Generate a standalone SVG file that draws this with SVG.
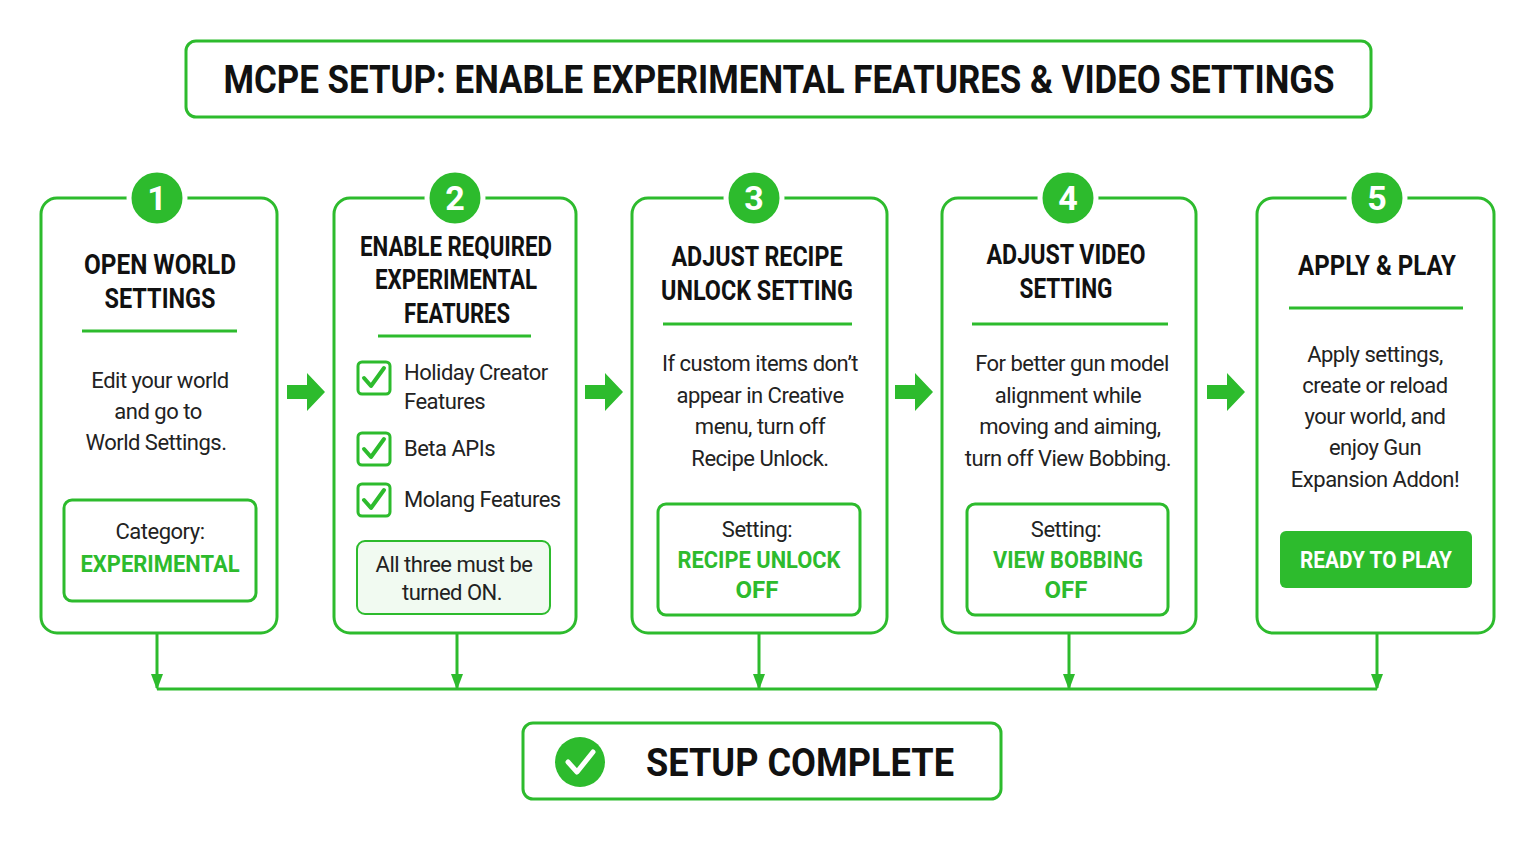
<svg xmlns="http://www.w3.org/2000/svg" width="1536" height="842" viewBox="0 0 1536 842">
<style>
.box{fill:#fff;stroke:#2dbb2d;stroke-width:3}
.t{font-family:Roboto,"Liberation Sans",sans-serif;font-weight:bold;font-size:27px;fill:#111;text-anchor:middle}
.big{font-size:38px}
.b{font-family:Roboto,"Liberation Sans",sans-serif;font-size:22px;letter-spacing:-0.5px;fill:#222;text-anchor:middle}
.g{font-family:Roboto,"Liberation Sans",sans-serif;font-weight:bold;font-size:24px;fill:#2dbb2d;text-anchor:middle}
.w{fill:#fff}
.num{font-family:Roboto,"Liberation Sans",sans-serif;font-weight:bold;font-size:34px;fill:#fff;text-anchor:middle}
.div{stroke:#2dbb2d;stroke-width:3}
.cb{fill:#fff;stroke:#2dbb2d;stroke-width:3}
.ck{fill:none;stroke:#2dbb2d;stroke-width:4;stroke-linecap:round;stroke-linejoin:round}
.line{stroke:#2dbb2d;stroke-width:3;fill:none}
.arr{fill:#2dbb2d}
.l{text-anchor:start}
</style>
<defs>
<marker id="ad" viewBox="0 0 16 12" markerWidth="16" markerHeight="12" refX="14" refY="6" orient="auto" markerUnits="userSpaceOnUse"><path d="M0,0 L16,6 L0,12 Z" fill="#2dbb2d"/></marker>
</defs>
<rect width="1536" height="842" fill="#fff"/>
<g id="title"><rect class="box" x="186" y="41" width="1185" height="76" rx="10"/>
<text class="t big" x="779" y="93" textLength="1111" lengthAdjust="spacingAndGlyphs">MCPE SETUP: ENABLE EXPERIMENTAL FEATURES &amp; VIDEO SETTINGS</text></g>

<g id="connectors">
<g class="arr">
<path d="M287,385 H307 V373 L325,392 L307,411 V399 H287 Z"/>
<path d="M585,385 H605 V373 L623,392 L605,411 V399 H585 Z"/>
<path d="M895,385 H915 V373 L933,392 L915,411 V399 H895 Z"/>
<path d="M1207,385 H1227 V373 L1245,392 L1227,411 V399 H1207 Z"/>
</g>
<path class="line" d="M157,689 H1377"/>
<path class="line" d="M157,633 V688" marker-end="url(#ad)"/>
<path class="line" d="M457,633 V688" marker-end="url(#ad)"/>
<path class="line" d="M759,633 V688" marker-end="url(#ad)"/>
<path class="line" d="M1069,633 V688" marker-end="url(#ad)"/>
<path class="line" d="M1377,633 V688" marker-end="url(#ad)"/>
</g>

<g id="step1"><rect class="box" x="41" y="198" width="236" height="435" rx="16"/>
<circle cx="157" cy="198" r="28" fill="#2dbb2d" stroke="#fff" stroke-width="5"/><text class="num" x="157" y="210">1</text>
<text class="t" x="160" y="274" textLength="152" lengthAdjust="spacingAndGlyphs">OPEN WORLD</text><text class="t" x="160" y="308" textLength="111" lengthAdjust="spacingAndGlyphs">SETTINGS</text>
<line class="div" x1="82" y1="331" x2="237" y2="331"/>
<text class="b" x="160" y="388">Edit your world</text><text class="b" x="158" y="419">and go to</text><text class="b" x="156" y="450">World Settings.</text>
<rect class="box" x="64" y="500" width="192" height="101" rx="8"/>
<text class="b" x="160" y="539">Category:</text><text class="g" x="160" y="572" textLength="159" lengthAdjust="spacingAndGlyphs">EXPERIMENTAL</text></g>

<g id="step2"><rect class="box" x="334" y="198" width="242" height="435" rx="16"/>
<circle cx="455" cy="198" r="28" fill="#2dbb2d" stroke="#fff" stroke-width="5"/><text class="num" x="455" y="210">2</text>
<text class="t" x="456" y="256" textLength="192" lengthAdjust="spacingAndGlyphs">ENABLE REQUIRED</text><text class="t" x="456" y="289" textLength="162" lengthAdjust="spacingAndGlyphs">EXPERIMENTAL</text><text class="t" x="457" y="323" textLength="106" lengthAdjust="spacingAndGlyphs">FEATURES</text>
<line class="div" x1="378" y1="336" x2="531" y2="336"/>
<rect class="cb" x="358" y="362" width="32" height="32" rx="4"/><path class="ck" d="M364,378 L371,386 L384,368"/>
<rect class="cb" x="358" y="433" width="32" height="32" rx="4"/><path class="ck" d="M364,449 L371,457 L384,439"/>
<rect class="cb" x="358" y="484" width="32" height="32" rx="4"/><path class="ck" d="M364,500 L371,508 L384,490"/>
<text class="b l" x="404" y="380">Holiday Creator</text><text class="b l" x="404" y="409">Features</text>
<text class="b l" x="404" y="456">Beta APIs</text><text class="b l" x="404" y="507">Molang Features</text>
<rect x="357" y="541" width="193" height="73" rx="8" fill="#f1faf1" stroke="#2dbb2d" stroke-width="2"/>
<text class="b" x="454" y="572">All three must be</text><text class="b" x="452" y="600">turned ON.</text></g>

<g id="step3"><rect class="box" x="632" y="198" width="255" height="435" rx="16"/>
<circle cx="754" cy="198" r="28" fill="#2dbb2d" stroke="#fff" stroke-width="5"/><text class="num" x="754" y="210">3</text>
<text class="t" x="757" y="266" textLength="171" lengthAdjust="spacingAndGlyphs">ADJUST RECIPE</text><text class="t" x="757" y="300" textLength="192" lengthAdjust="spacingAndGlyphs">UNLOCK SETTING</text>
<line class="div" x1="663" y1="324" x2="852" y2="324"/>
<text class="b" x="760" y="371">If custom items don’t</text><text class="b" x="760" y="403">appear in Creative</text><text class="b" x="760" y="434">menu, turn off</text><text class="b" x="760" y="466">Recipe Unlock.</text>
<rect class="box" x="658" y="504" width="202" height="111" rx="8"/>
<text class="b" x="757" y="537">Setting:</text><text class="g" x="759" y="568" textLength="163" lengthAdjust="spacingAndGlyphs">RECIPE UNLOCK</text><text class="g" x="757" y="598">OFF</text></g>

<g id="step4"><rect class="box" x="942" y="198" width="254" height="435" rx="16"/>
<circle cx="1068" cy="198" r="28" fill="#2dbb2d" stroke="#fff" stroke-width="5"/><text class="num" x="1068" y="210">4</text>
<text class="t" x="1066" y="264" textLength="159" lengthAdjust="spacingAndGlyphs">ADJUST VIDEO</text><text class="t" x="1066" y="298" textLength="93" lengthAdjust="spacingAndGlyphs">SETTING</text>
<line class="div" x1="972" y1="324" x2="1168" y2="324"/>
<text class="b" x="1072" y="371">For better gun model</text><text class="b" x="1068" y="403">alignment while</text><text class="b" x="1070" y="434">moving and aiming,</text><text class="b" x="1068" y="466">turn off View Bobbing.</text>
<rect class="box" x="967" y="504" width="201" height="111" rx="8"/>
<text class="b" x="1066" y="537">Setting:</text><text class="g" x="1068" y="568" textLength="150" lengthAdjust="spacingAndGlyphs">VIEW BOBBING</text><text class="g" x="1066" y="598">OFF</text></g>

<g id="step5"><rect class="box" x="1257" y="198" width="237" height="435" rx="16"/>
<circle cx="1377" cy="198" r="28" fill="#2dbb2d" stroke="#fff" stroke-width="5"/><text class="num" x="1377" y="210">5</text>
<text class="t" x="1377" y="275" textLength="158" lengthAdjust="spacingAndGlyphs">APPLY &amp; PLAY</text>
<line class="div" x1="1289" y1="308" x2="1463" y2="308"/>
<text class="b" x="1375" y="362">Apply settings,</text><text class="b" x="1375" y="393">create or reload</text><text class="b" x="1375" y="424">your world, and</text><text class="b" x="1375" y="455">enjoy Gun</text><text class="b" x="1375" y="487">Expansion Addon!</text>
<rect x="1280" y="531" width="192" height="57" rx="6" fill="#2dbb2d"/>
<text class="g w" x="1376" y="568" textLength="152" lengthAdjust="spacingAndGlyphs">READY TO PLAY</text></g>

<g id="complete"><rect class="box" x="523" y="723" width="478" height="76" rx="10"/>
<circle cx="580" cy="762" r="25" fill="#2dbb2d"/><path d="M568,762 L577,772 L593,752" fill="none" stroke="#fff" stroke-width="5" stroke-linecap="round" stroke-linejoin="round"/>
<text class="t big" x="800" y="776" textLength="308" lengthAdjust="spacingAndGlyphs">SETUP COMPLETE</text></g>
</svg>
